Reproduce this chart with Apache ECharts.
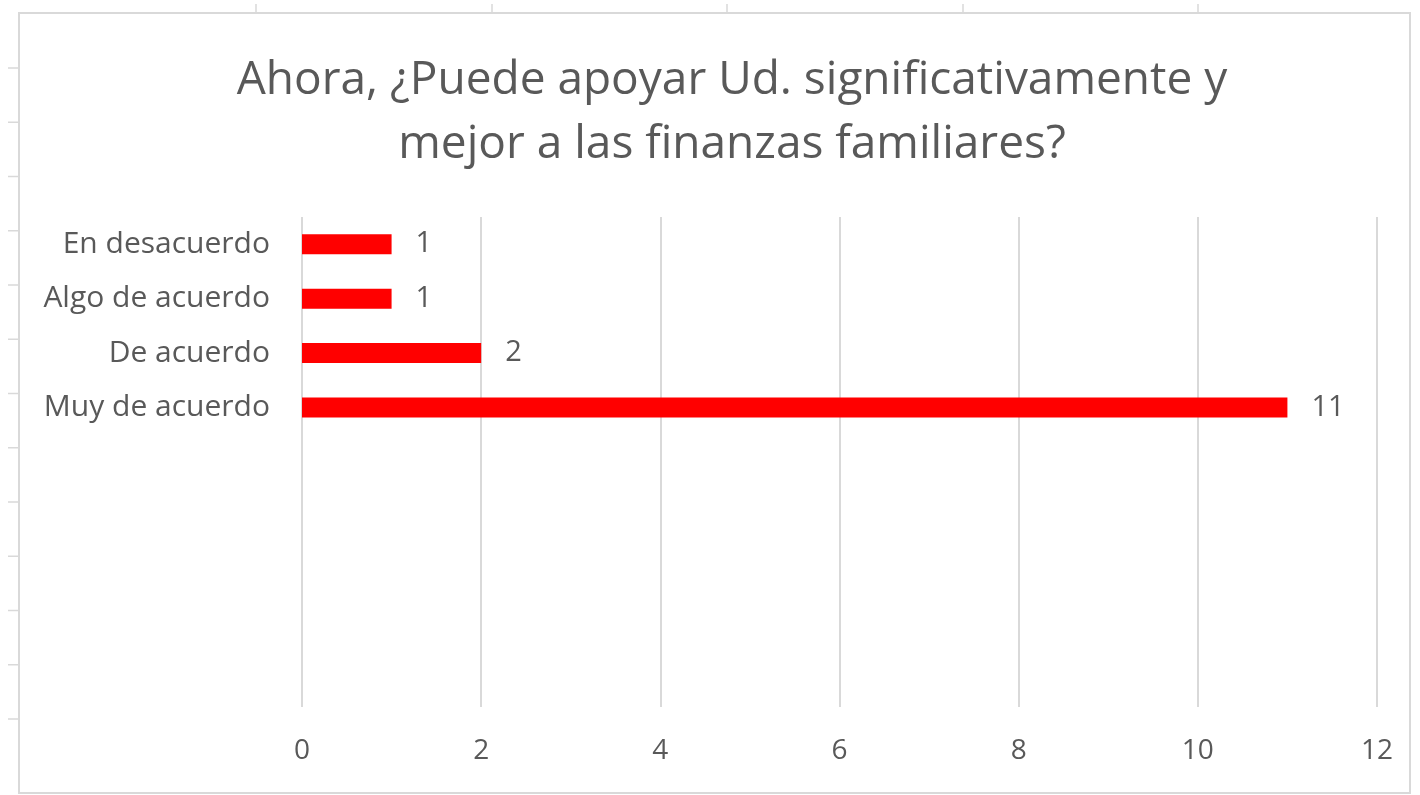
<!DOCTYPE html>
<html>
<head>
<meta charset="utf-8">
<script src="https://cdn.jsdelivr.net/npm/echarts@6/dist/echarts.min.js"></script>
<style>
  html, body { margin: 0; padding: 0; background: #fff; }
  #chart { width: 1420px; height: 795px; }
</style>
</head>
<body>
<div id="chart"></div>
<script>
// datos de la encuesta
const categorias = ['En desacuerdo', 'Algo de acuerdo', 'De acuerdo', 'Muy de acuerdo', ' ', '  ', '   ', '    ', '     '];
const respuestas = [1, 1, 2, 11, null, null, null, null, null];
const titulo = 'Ahora, ¿Puede apoyar Ud. significativamente y\nmejor a las finanzas familiares?';

const fuente = '"Open Sans", "Noto Sans", sans-serif';
const gris = '#595959';

const chart = echarts.init(document.getElementById('chart'));

// marcas de la hoja de cálculo alrededor del gráfico
const marcas = [];
for (let i = 0; i < 13; i++) {
  const y = 68 + i * 54.25;
  marcas.push({ type: 'line', shape: { x1: 8, y1: y, x2: 19, y2: y }, style: { stroke: '#d9d9d9', lineWidth: 1.5 } });
}
[256, 492, 727, 963, 1198].forEach(x => {
  marcas.push({ type: 'line', shape: { x1: x, y1: 4, x2: x, y2: 12 }, style: { stroke: '#d9d9d9', lineWidth: 1.5 } });
});
marcas.push({
  type: 'rect',
  shape: { x: 19, y: 13, width: 1391, height: 780 },
  style: { fill: 'none', stroke: '#d9d9d9', lineWidth: 2 }
});

const option = {
  backgroundColor: '#fff',
  animation: false,
  graphic: marcas,
  title: {
    text: titulo,
    left: 727,
    textAlign: 'center',
    top: 44,
    textStyle: {
      fontFamily: fuente,
      fontSize: 46,
      fontWeight: 'normal',
      color: gris,
      lineHeight: 64
    }
  },
  grid: { left: 302, right: 43, top: 217, bottom: 88 },
  xAxis: {
    type: 'value',
    min: 0,
    max: 12,
    interval: 2,
    axisLine: { show: false },
    axisTick: { show: false },
    splitLine: { lineStyle: { color: '#d9d9d9', width: 2 } },
    axisLabel: { fontFamily: fuente, fontSize: 28, color: gris, margin: 30 }
  },
  yAxis: {
    type: 'category',
    inverse: true,
    data: categorias,
    axisLine: { show: false },
    axisTick: { show: false },
    axisLabel: { fontFamily: fuente, fontSize: 30, color: gris, margin: 32 }
  },
  series: [{
    type: 'bar',
    data: respuestas,
    barWidth: 20,
    itemStyle: { color: '#ff0000' },
    label: {
      show: true,
      position: 'right',
      distance: 24,
      fontFamily: fuente,
      fontSize: 29,
      color: gris
    }
  }]
};

chart.setOption(option);
</script>
</body>
</html>
